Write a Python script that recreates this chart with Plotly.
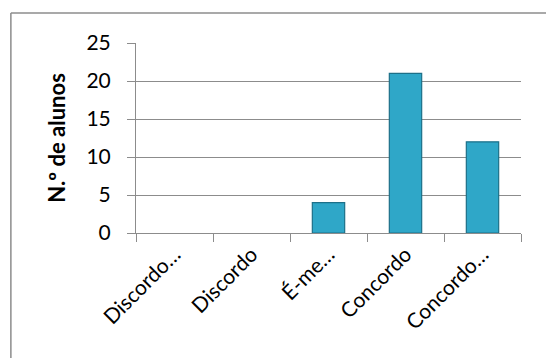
import plotly.graph_objects as go

categories = ["Discordo…", "Discordo", "É-me…", "Concordo", "Concordo…"]
values = [0, 0, 4, 21, 12]
y_ticks = [0, 5, 10, 15, 20, 25]
y_title = "N.º de alunos"

FONT = "Lato, Open Sans, sans-serif"
GRID = "#8c8c8c"

fig = go.Figure(
    go.Bar(
        x=categories,
        y=values,
        width=0.42,
        marker=dict(
            color="#2fa7c8",
            line=dict(color="#1d7089", width=[1.2 if v > 0 else 0 for v in values]),
        ),
    )
)

fig.update_layout(
    width=546,
    height=358,
    margin=dict(l=136, r=25, t=43, b=125),
    paper_bgcolor="white",
    plot_bgcolor="white",
    showlegend=False,
    font=dict(family=FONT, size=21, color="black"),
    shapes=[
        dict(type="line", xref="paper", yref="paper", x0=-0.325, x1=1.1, y0=1.158, y1=1.158,
             line=dict(color=GRID, width=1.5)),
        dict(type="line", xref="paper", yref="paper", x0=-0.325, x1=-0.325, y0=1.158, y1=-0.7,
             line=dict(color=GRID, width=1.5)),
    ],
)

fig.update_yaxes(
    range=[0, 25],
    tickvals=y_ticks,
    showgrid=True,
    gridcolor=GRID,
    gridwidth=1,
    zeroline=False,
    showline=True,
    linecolor=GRID,
    linewidth=1,
    ticks="outside",
    ticklen=8,
    tickcolor=GRID,
    ticklabelstandoff=12,
    tickfont=dict(size=21),
    title=dict(text=y_title, font=dict(size=22, family=FONT, weight="bold"), standoff=14),
)

fig.update_xaxes(
    type="category",
    showline=True,
    linecolor=GRID,
    linewidth=1,
    ticks="outside",
    tickson="boundaries",
    ticklen=8,
    tickcolor=GRID,
    tickangle=-45,
    tickfont=dict(size=21),
    showgrid=False,
)

fig.write_html("out.html")
